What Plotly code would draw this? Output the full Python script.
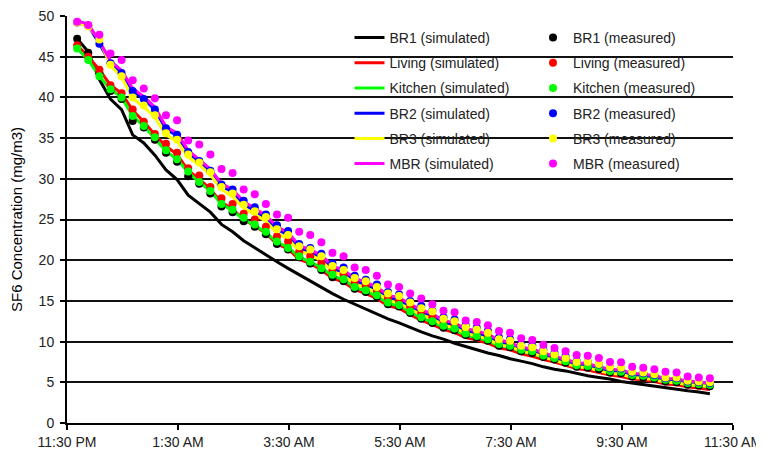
import plotly.graph_objects as go

# Sample times (every 12 min, night of the test)
times_hm = ["23:41", "23:53", "00:05", "00:17", "00:29", "00:41", "00:53", "01:05", "01:17", "01:29",
            "01:41", "01:53", "02:05", "02:17", "02:29", "02:41", "02:53", "03:05", "03:17", "03:29",
            "03:41", "03:53", "04:05", "04:17", "04:29", "04:41", "04:53", "05:05", "05:17", "05:29",
            "05:41", "05:53", "06:05", "06:17", "06:29", "06:41", "06:53", "07:05", "07:17", "07:29",
            "07:41", "07:53", "08:05", "08:17", "08:29", "08:41", "08:53", "09:05", "09:17", "09:29",
            "09:41", "09:53", "10:05", "10:17", "10:29", "10:41", "10:53", "11:05"]

rooms = ["BR1", "Living", "Kitchen", "BR2", "BR3", "MBR"]
colors = ["#000000", "#ff0000", "#00ff00", "#0000ff", "#ffff00", "#ff00ff"]

# Simulated concentrations (mg/m3)
sim_BR1 = [47.2, 45.6, 42.2, 39.8, 38.5, 35.4, 34.4, 32.9, 31.1, 29.9,
           28.0, 27.0, 25.9, 24.4, 23.5, 22.4, 21.5, 20.7, 19.8, 19.0,
           18.2, 17.4, 16.6, 15.9, 15.2, 14.6, 14.0, 13.4, 12.8, 12.3,
           11.7, 11.2, 10.7, 10.3, 9.8, 9.4, 9.0, 8.6, 8.3, 7.9,
           7.6, 7.3, 6.9, 6.6, 6.4, 6.1, 5.8, 5.6, 5.4, 5.1,
           4.9, 4.7, 4.5, 4.3, 4.1, 3.95, 3.8, 3.6]
sim_Living = [46.4, 45.0, 43.4, 41.5, 40.5, 38.4, 37.0, 35.4, 34.0, 33.0,
              31.0, 30.0, 28.7, 27.1, 26.3, 25.0, 24.2, 23.3, 22.0, 21.4,
              20.1, 19.6, 18.8, 17.8, 17.3, 16.4, 15.9, 15.3, 14.4, 14.1,
              13.3, 12.6, 12.1, 11.5, 11.1, 10.5, 10.2, 9.8, 9.2, 9.0,
              8.5, 8.2, 7.8, 7.5, 7.1, 6.7, 6.5, 6.2, 5.9, 5.7,
              5.4, 5.3, 5.1, 4.8, 4.7, 4.45, 4.3, 4.1]
sim_Kitchen = [46.0, 44.6, 42.6, 41.0, 40.0, 37.7, 36.5, 35.0, 33.4, 32.4,
               30.8, 29.6, 28.5, 26.9, 26.1, 25.0, 24.3, 23.4, 22.2, 21.6,
               20.4, 19.8, 19.1, 18.1, 17.6, 16.7, 16.2, 15.6, 14.7, 14.4,
               13.6, 12.9, 12.4, 11.8, 11.4, 10.8, 10.5, 10.1, 9.5, 9.3,
               8.8, 8.5, 8.1, 7.8, 7.4, 7.0, 6.8, 6.5, 6.2, 6.0,
               5.7, 5.6, 5.4, 5.1, 5.0, 4.7, 4.6, 4.4]
sim_BR2 = [49.2, 48.8, 46.6, 44.2, 43.0, 40.8, 39.8, 38.5, 36.1, 35.3,
           33.2, 32.1, 30.9, 29.1, 28.4, 26.9, 26.1, 25.2, 23.8, 23.1,
           21.5, 21.0, 20.3, 19.0, 18.5, 17.5, 17.0, 16.4, 15.4, 15.1,
           14.3, 13.6, 13.1, 12.3, 12.0, 11.3, 11.0, 10.6, 9.9, 9.6,
           9.0, 8.8, 8.3, 7.9, 7.5, 7.1, 7.0, 6.6, 6.3, 6.15,
           5.8, 5.7, 5.5, 5.2, 5.1, 4.85, 4.75, 4.6]
sim_BR3 = [49.2, 48.7, 47.1, 43.9, 42.5, 39.9, 38.8, 37.6, 35.4, 34.6,
           32.7, 31.7, 30.5, 28.7, 27.8, 26.4, 25.6, 24.8, 23.3, 22.6,
           21.1, 20.7, 19.9, 18.6, 18.1, 17.1, 16.6, 16.0, 15.1, 14.7,
           14.0, 13.3, 12.8, 12.0, 11.7, 11.0, 10.7, 10.3, 9.6, 9.4,
           8.8, 8.6, 8.1, 7.7, 7.3, 6.9, 6.8, 6.4, 6.1, 6.0,
           5.6, 5.5, 5.3, 5.0, 4.95, 4.7, 4.6, 4.5]
sim_MBR = [49.4, 49.0, 46.9, 44.5, 43.3, 41.1, 40.1, 38.8, 36.4, 35.6,
           33.5, 32.4, 31.2, 29.4, 28.7, 27.2, 26.4, 25.5, 24.1, 23.4,
           21.8, 21.3, 20.6, 19.3, 18.8, 17.8, 17.3, 16.7, 15.7, 15.4,
           14.6, 13.9, 13.4, 12.6, 12.3, 11.6, 11.3, 10.9, 10.2, 9.9,
           9.3, 9.1, 8.6, 8.2, 7.8, 7.4, 7.3, 6.9, 6.6, 6.5,
           6.1, 6.0, 5.8, 5.5, 5.4, 5.15, 5.05, 4.9]

# Measured concentrations (mg/m3)
meas_BR1 = [47.2, 45.5, 43.0, 40.8, 39.8, 37.1, 36.3, 34.8, 33.2, 32.1,
            30.3, 29.4, 28.2, 26.6, 25.9, 24.8, 24.1, 23.2, 22.0, 21.3,
            20.35, 19.6, 18.8, 17.9, 17.4, 16.5, 16.1, 15.5, 14.6, 14.3,
            13.5, 12.8, 12.3, 11.7, 11.4, 10.8, 10.5, 10.1, 9.5, 9.3,
            8.8, 8.6, 8.1, 7.8, 7.4, 6.9, 6.8, 6.6, 6.2, 6.1,
            5.7, 5.6, 5.4, 5.1, 5.0, 4.7, 4.6, 4.5]
meas_Living = [46.4, 45.0, 43.4, 41.5, 40.5, 38.5, 37.0, 35.5, 34.3, 33.2,
               31.3, 30.4, 29.0, 27.6, 26.9, 25.7, 25.0, 24.1, 22.9, 22.3,
               21.0, 20.5, 19.7, 18.7, 18.2, 17.2, 16.8, 16.2, 15.3, 15.0,
               14.2, 13.5, 13.0, 12.3, 12.0, 11.3, 11.0, 10.6, 10.0, 9.8,
               9.2, 9.0, 8.5, 8.2, 7.8, 7.3, 7.2, 6.9, 6.5, 6.4,
               6.0, 5.9, 5.7, 5.4, 5.3, 5.0, 4.9, 4.8]
meas_Kitchen = [46.0, 44.6, 42.6, 41.0, 40.0, 37.7, 36.5, 35.1, 33.5, 32.4,
                30.9, 29.6, 28.5, 26.9, 26.2, 25.2, 24.4, 23.5, 22.3, 21.5,
                20.5, 19.8, 19.0, 18.2, 17.65, 16.7, 16.3, 15.7, 14.8, 14.5,
                13.7, 13.0, 12.5, 11.95, 11.6, 11.0, 10.7, 10.3, 9.7, 9.5,
                9.0, 8.8, 8.3, 8.0, 7.6, 7.1, 7.0, 6.85, 6.4, 6.3,
                5.9, 5.8, 5.6, 5.3, 5.2, 4.9, 4.8, 4.7]
meas_BR2 = [49.2, 48.8, 46.6, 44.2, 43.0, 40.8, 39.8, 38.5, 36.2, 35.4,
            33.3, 32.2, 31.0, 29.3, 28.7, 27.3, 26.5, 25.6, 24.3, 23.6,
            22.0, 21.5, 20.8, 19.6, 19.1, 18.1, 17.6, 17.0, 16.1, 15.8,
            15.0, 14.4, 13.8, 13.0, 12.7, 12.0, 11.7, 11.3, 10.5, 10.3,
            9.7, 9.5, 9.0, 8.6, 8.2, 7.6, 7.5, 7.2, 6.8, 6.7,
            6.2, 6.1, 5.9, 5.5, 5.5, 5.1, 5.0, 4.9]
meas_BR3 = [49.2, 48.7, 47.1, 44.0, 42.6, 40.0, 39.0, 37.8, 35.6, 34.8,
            33.0, 32.0, 30.8, 29.0, 28.2, 26.8, 26.0, 25.3, 23.8, 23.1,
            21.7, 21.3, 20.5, 19.3, 18.8, 17.8, 17.4, 16.7, 15.9, 15.6,
            14.8, 14.1, 13.7, 12.8, 12.5, 11.8, 11.5, 11.1, 10.3, 10.1,
            9.5, 9.3, 8.8, 8.4, 8.0, 7.5, 7.5, 7.25, 6.85, 6.8,
            6.3, 6.2, 6.0, 5.6, 5.6, 5.2, 5.1, 5.0]
meas_MBR = [49.3, 48.9, 47.7, 45.4, 44.6, 42.1, 41.1, 39.9, 37.8, 37.2,
            34.7, 34.2, 33.0, 31.2, 30.7, 28.7, 28.1, 26.9, 25.6, 25.2,
            23.5, 23.1, 22.2, 20.9, 20.5, 19.1, 18.8, 18.1, 17.0, 16.7,
            15.9, 15.3, 14.6, 13.8, 13.6, 12.6, 12.4, 12.0, 11.3, 11.1,
            10.4, 10.2, 9.6, 9.2, 8.8, 8.35, 8.27, 8.0, 7.5, 7.45,
            6.9, 6.8, 6.6, 6.3, 6.2, 5.7, 5.6, 5.5]

tick_times = ["2000-01-01 23:30", "2000-01-02 01:30", "2000-01-02 03:30", "2000-01-02 05:30",
              "2000-01-02 07:30", "2000-01-02 09:30", "2000-01-02 11:30"]
tick_labels = ["11:30 PM", "1:30 AM", "3:30 AM", "5:30 AM", "7:30 AM", "9:30 AM", "11:30 AM"]

x = [("2000-01-01 " if hm.startswith("23") else "2000-01-02 ") + hm for hm in times_hm]

sims = [sim_BR1, sim_Living, sim_Kitchen, sim_BR2, sim_BR3, sim_MBR]
meas = [meas_BR1, meas_Living, meas_Kitchen, meas_BR2, meas_BR3, meas_MBR]

FONT = "Arial, Liberation Sans, sans-serif"
fig = go.Figure()
for r, c, s in zip(rooms, colors, sims):
    fig.add_trace(go.Scatter(x=x, y=s, mode="lines", name=f"{r} (simulated)",
                             line=dict(color=c, width=3),
                             legend="legend", legendgroup="s" + r))
for r, c, m in zip(rooms, colors, meas):
    fig.add_trace(go.Scatter(x=x, y=m, mode="markers", name=f"{r} (measured)",
                             marker=dict(color=c, size=8),
                             legend="legend2", legendgroup="m" + r))

# page has an 8 px body margin; figure is sized to fit the 764x451 window
OFF = 8
W, H = 764 - OFF, 451 - OFF
PLOT_L, PLOT_R, PLOT_T, PLOT_B = 67, 733, 16, 423   # page pixels of plot area
L, T = PLOT_L - OFF, PLOT_T - OFF
R = W - (PLOT_R - OFF)
B = H - (PLOT_B - OFF)

def px2x(p):
    return (p - PLOT_L) / (PLOT_R - PLOT_L)

def py2y(p):
    return (PLOT_B - p) / (PLOT_B - PLOT_T)

legend_common = dict(bgcolor="rgba(0,0,0,0)", borderwidth=0, tracegroupgap=4,
                     font=dict(family=FONT, size=14, color="#222"),
                     yanchor="top", xanchor="left", orientation="v")

fig.update_layout(
    width=W, height=H,
    margin=dict(l=L, r=R, t=T, b=B, autoexpand=False),
    paper_bgcolor="white", plot_bgcolor="white",
    font=dict(family=FONT, size=14, color="#222"),
    legend=dict(x=px2x(349.5), y=py2y(22), **legend_common),
    legend2=dict(x=px2x(533), y=py2y(22), **legend_common),
    showlegend=True,
)
fig.update_xaxes(type="date", range=["2000-01-01 23:30", "2000-01-02 11:30"],
                 tickvals=tick_times, ticktext=tick_labels,
                 showgrid=False, zeroline=False, automargin=False,
                 ticklabeloverflow="allow",
                 showline=True, linecolor="black", linewidth=2,
                 ticks="outside", ticklen=5, tickcolor="black", tickwidth=2,
                 tickfont=dict(family=FONT, size=14, color="#222"))
fig.update_yaxes(range=[0, 50], dtick=5, tick0=0,
                 showgrid=True, gridcolor="#111", gridwidth=2, zeroline=False,
                 automargin=False, ticklabelstandoff=3, ticklabeloverflow="allow",
                 showline=True, linecolor="black", linewidth=2,
                 ticks="outside", ticklen=5, tickcolor="black", tickwidth=2,
                 tickfont=dict(family=FONT, size=14, color="#222"),
                 title=dict(text="SF6 Concentration (mg/m3)",
                            font=dict(family=FONT, size=15, color="black"), standoff=18))

fig.write_html("out.html")
